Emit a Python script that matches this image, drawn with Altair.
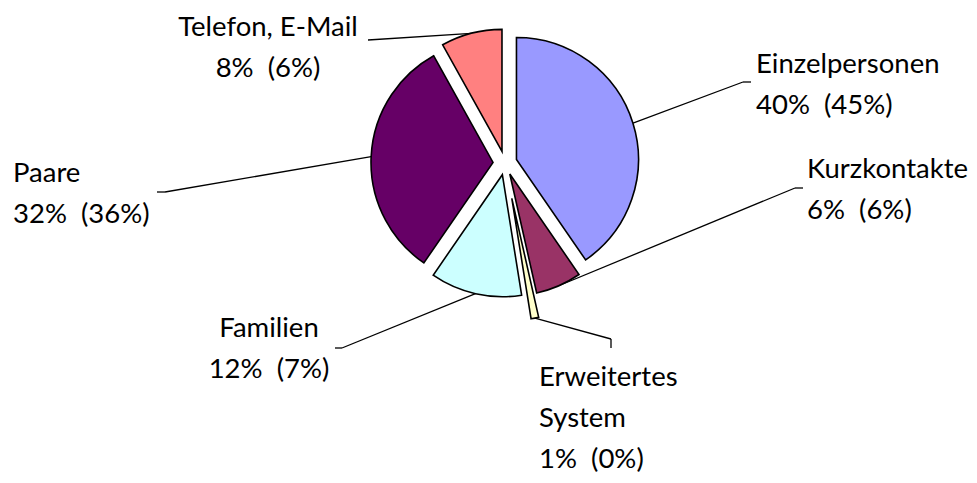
import altair as alt
import pandas as pd

# ---------------- data ----------------
categories = ["Einzelpersonen", "Kurzkontakte", "Erweitertes System",
              "Familien", "Paare", "Telefon, E-Mail"]
share = [40, 6, 1, 12, 32, 8]          # current share (%)
share_prev = [45, 6, 0, 7, 36, 6]      # previous share (%) shown in brackets
colors = ["#9999FF", "#993366", "#FFFFCC", "#CCFFFF", "#660066", "#FF8080"]

# ---------------- layout (positions / styles, not data) ----------------
R = 122                                  # pie radius (px)
W, H = 961, 467
X_DOMAIN = [-497, 464]                   # px relative to pie centre
Y_DOMAIN = [-155, 312]                   # px relative to pie centre, downward
explode = [12, 12, 36, 12, 12, 12]
name_breaks = {"Erweitertes System": "Erweitertes\nSystem"}
label_align = ["left", "left", "left", "center", "left", "center"]
label_x = [251, 302, 34, -236, -492, -237]
label_y = [-90, 15, 223, 174, 19, -127]
elbow_x = [238, 290, 106, -163, -340, -137]
elbow_y = [-81, 25, 176, 185, 29, -123]
end_x = [246, 298, 106, -170, -348, -137]
end_y = [-81, 25, 185, 185, 29, -123]
FONT = "Lato"
FONT_SIZE = 27.5
LINE_H = 41

labels = [f"{name_breaks.get(c, c)}\n{s}%\u00a0 ({p}%)"
          for c, s, p in zip(categories, share, share_prev)]

df = pd.DataFrame({
    "category": categories,
    "share": share,
    "order": list(range(len(categories))),
    "explode": explode,
    "label": labels,
    "align": label_align,
    "lx": label_x, "ly": label_y,
    "bx": elbow_x, "by": elbow_y,
    "ex": end_x, "ey": end_y,
})

xs = alt.Scale(domain=X_DOMAIN, nice=False, zero=False)
ys = alt.Scale(domain=Y_DOMAIN, nice=False, zero=False, reverse=True)

base = (
    alt.Chart(df)
    .transform_joinaggregate(total="sum(share)")
    .transform_window(cum="sum(share)", sort=[alt.SortField("order")], frame=[None, 0])
    .transform_calculate(
        a0="2*PI*(datum.cum - datum.share)/datum.total",
        a1="2*PI*datum.cum/datum.total",
    )
    .transform_calculate(mid="(datum.a0 + datum.a1)/2")
    .transform_calculate(
        cx="datum.explode*sin(datum.mid)",
        cy="-datum.explode*cos(datum.mid)",
    )
    .transform_calculate(
        sx=f"datum.cx + {R}*sin(datum.mid)",
        sy=f"datum.cy - {R}*cos(datum.mid)",
    )
)

arcs = base.mark_arc(stroke="black", strokeWidth=1.6).encode(
    x=alt.X("cx:Q", scale=xs, axis=None),
    y=alt.Y("cy:Q", scale=ys, axis=None),
    theta=alt.Theta("a0:Q", scale=None),
    theta2="a1:Q",
    radius=alt.value(R),
    color=alt.Color("category:N", scale=alt.Scale(domain=categories, range=colors), legend=None),
)

lead1 = base.mark_rule(color="black", strokeWidth=1.3).encode(
    x=alt.X("sx:Q", scale=xs, axis=None),
    y=alt.Y("sy:Q", scale=ys, axis=None),
    x2="bx:Q",
    y2="by:Q",
)
lead2 = base.mark_rule(color="black", strokeWidth=1.3).encode(
    x=alt.X("bx:Q", scale=xs, axis=None),
    y=alt.Y("by:Q", scale=ys, axis=None),
    x2="ex:Q",
    y2="ey:Q",
)

def text_layer(al):
    return base.transform_filter(alt.datum.align == al).mark_text(
        align=al, baseline="alphabetic", lineBreak="\n", lineHeight=LINE_H,
        font=FONT, fontSize=FONT_SIZE, color="black",
    ).encode(
        x=alt.X("lx:Q", scale=xs, axis=None),
        y=alt.Y("ly:Q", scale=ys, axis=None),
        text="label:N",
    )

chart = (
    alt.layer(lead1, lead2, arcs, text_layer("left"), text_layer("center"))
    .properties(width=W, height=H, autosize="none", padding=0, background="white")
    .configure_view(stroke=None)
)

chart.save("out.html", embed_options={"renderer": "svg", "actions": False})
